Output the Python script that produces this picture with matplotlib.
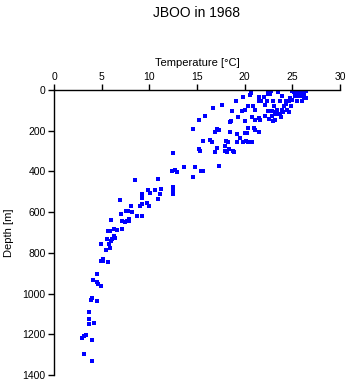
import matplotlib
matplotlib.use("Agg")
import matplotlib.pyplot as plt

plt.rcParams['font.family'] = ['Liberation Sans', 'DejaVu Sans']

# temperature [deg C] and depth [m]
temperature = [
    # deep
    4.55, 4.06, 4.55, 4.66, 4.97, 4.03, 3.89, 4.52, 3.71, 3.71, 3.64, 4.2,
    3.36, 3.12, 2.91, 4.03, 3.19, 3.96,
    # 650-900 m
    4.9, 5.5, 5.9, 4.94, 5.11, 5.18, 5.64, 5.53, 6.12, 6.0, 5.8, 6.3, 6.41,
    5.64, 5.88, 6.33, 6.58,
    # 400-650 m
    6.02, 7.17, 7.42, 7.84, 7.91, 7.64, 7.17, 7.07, 7.53, 7.81, 8.22, 8.72,
    9.28, 6.97, 8.12, 9.0, 9.24, 9.77, 10.01, 8.47, 10.96, 10.96, 11.13,
    9.28, 9.28, 9.91, 10.05, 10.61, 11.21, 12.43, 12.53, 12.53,
    # 300-430 m
    12.53, 12.36, 12.64, 12.95, 13.66, 14.74, 17.3, 15.44, 15.58, 14.53,
    # 200-310 m
    15.68, 16.39, 16.56, 18.07, 18.28, 19.19, 19.78, 20.13, 20.3, 17.89,
    17.05, 15.16, 15.34, 16.91, 17.93, 18.14, 18.35, 18.73, 18.84, 19.5,
    20.76,
    # 100-220 m
    15.79, 15.16, 14.6, 17.05, 17.26, 16.88, 18.45, 19.15, 20.06, 20.24,
    18.59, 18.45, 20.06, 19.25, 20.3, 20.94, 21.1, 21.46, 20.76, 21.46,
    21.64, 21.1, 22.6, 22.97, 23.2, 22.16, 22.86, 23.3, 23.66, 23.8, 18.66,
    19.71, 19.99, 21.1, 22.4, 22.86, 23.4, 23.92, 24.44, 23.2, 24.0, 24.6,
    # 0-100 m
    16.63, 17.65, 19.05, 19.78, 20.34, 20.83, 20.66, 20.56, 22.16, 23.04,
    24.09, 24.33, 24.9, 21.46, 21.74, 22.34, 22.93, 23.74, 24.3, 24.7,
    25.0, 25.5, 26.0, 21.5, 22.0, 22.5, 22.76, 22.4, 22.7, 23.5, 23.9,
    25.0, 25.3, 25.6, 26.0, 26.4, 25.3, 25.6, 25.9, 26.2, 25.3, 25.6, 25.9,
    26.2, 25.2, 25.5, 25.8, 26.2, 24.8, 26.4,
]
depth = [
    904, 935, 945, 951, 963, 1023, 1033, 1035, 1090, 1126, 1151, 1146,
    1202, 1208, 1220, 1230, 1298, 1333,
    758, 786, 775, 838, 840, 830, 846, 733, 732, 742, 756, 717, 725,
    694, 693, 684, 689,
    640, 643, 648, 643, 635, 645, 684, 609, 596, 596, 599, 620,
    620, 542, 570, 572, 560, 557, 572, 442, 435, 537, 512,
    512, 532, 493, 508, 493, 488, 475, 490, 512,
    308, 396, 393, 401, 377, 378, 372, 396, 396, 429,
    250, 247, 254, 249, 254, 255, 257, 250, 257, 275,
    283, 291, 298, 303, 300, 305, 291, 298, 303, 236,
    257,
    128, 149, 193, 193, 198, 205, 205, 218, 213, 213,
    151, 159, 154, 131, 188, 188, 196, 205, 131, 139,
    147, 147, 144, 152, 147, 126, 126, 119, 119, 131, 105,
    105, 98, 98, 103, 103, 98, 98, 98, 106, 106, 106,
    90, 75, 54, 33, 77, 77, 13, 23, 74, 77,
    77, 70, 77, 52, 52, 52, 52, 52, 52, 52,
    50, 52, 52, 33, 33, 3, 3, 20, 20, 11, 28,
    3, 3, 3, 3, 3, 20, 20, 20, 20, 28, 28, 28,
    33, 12, 12, 12, 12, 40, 40,
]

title = "JBOO in 1968"
xlabel = "Temperature [\u00b0C]"
ylabel = "Depth [m]"

fig = plt.figure(figsize=(3.48, 3.84), dpi=100)
ax = fig.add_axes([0.1552, 0.0234, 0.8218, 0.7422])

ax.plot(temperature, depth, linestyle='none', marker='s', ms=2.3,
        mew=0, color='#0000ff')

ax.set_xlim(0, 30)
ax.set_ylim(1400, 0)
ax.set_xticks(range(0, 31, 5))
ax.set_yticks(range(0, 1401, 200))

ax.xaxis.set_ticks_position('top')
ax.xaxis.set_label_position('top')
ax.spines['right'].set_visible(False)
ax.spines['bottom'].set_visible(False)
ax.spines['top'].set_linewidth(1.0)
ax.spines['left'].set_linewidth(1.0)
ax.tick_params(direction='out', length=4, width=1.0, labelsize=7.5, pad=2)

ax.set_xlabel(xlabel, fontsize=8, labelpad=4)
ax.set_ylabel(ylabel, fontsize=8, labelpad=6)

fig.text(0.566, 0.965, title, ha='center', va='center', fontsize=10)

fig.savefig("out.png", dpi=100)
